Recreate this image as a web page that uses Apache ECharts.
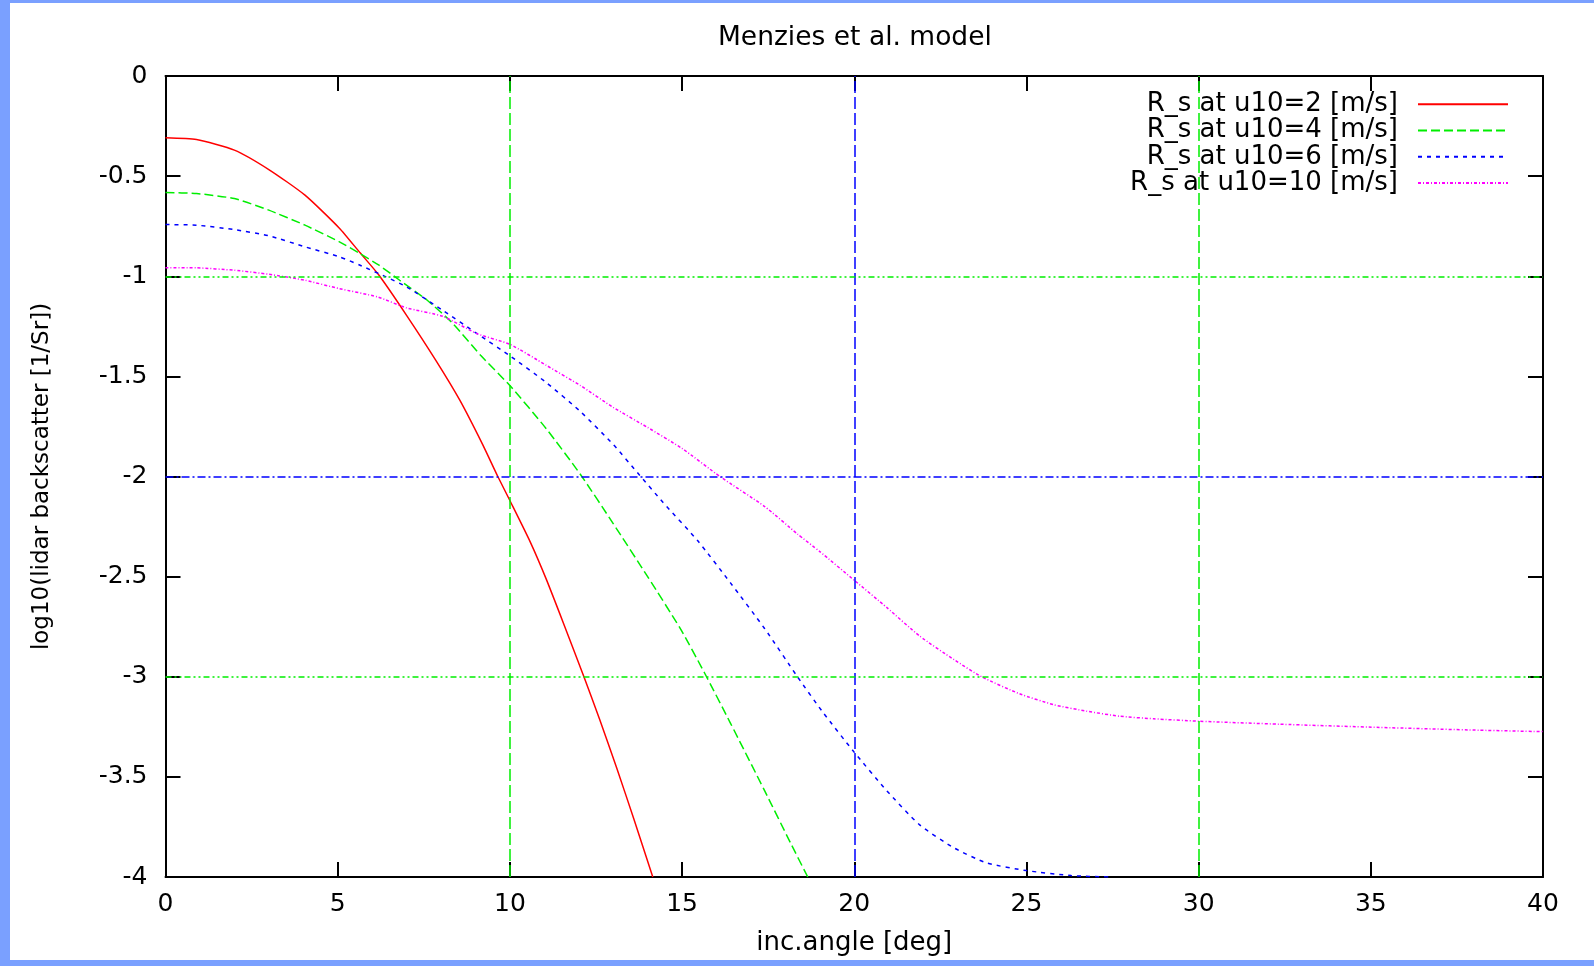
<!DOCTYPE html>
<html>
<head>
<meta charset="utf-8">
<script src="https://cdn.jsdelivr.net/npm/echarts@6/dist/echarts.min.js"></script>
<style>
  html, body { margin: 0; padding: 0; width: 1594px; height: 966px; background: #7aa0ff; overflow: hidden; }
  #c { position: absolute; left: 10px; top: 3px; width: 1584px; height: 957px; background: #ffffff; }
</style>
</head>
<body>
<div id="c"></div>
<script>
// ---- data ----
const titleText = 'Menzies et al. model';
const xName = 'inc.angle [deg]';
const yName = 'log10(lidar backscatter [1/Sr])';
const seriesNames = ['R_s at u10=2 [m/s]', 'R_s at u10=4 [m/s]', 'R_s at u10=6 [m/s]', 'R_s at u10=10 [m/s]'];

const u2Angle = [0, 0.9, 2.0, 3.0, 4.05, 5.05, 5.65, 6.2, 7.0, 7.85, 8.55, 9.2, 9.65, 10.0, 10.6, 11.05, 11.55, 12.15, 12.6, 13.1, 13.6, 14.15];
const u2Value = [-0.308, -0.317, -0.37, -0.467, -0.595, -0.76, -0.883, -0.995, -1.195, -1.42, -1.62, -1.837, -2.0, -2.12, -2.33, -2.51, -2.73, -3.0, -3.21, -3.455, -3.71, -4.0];

const u4Angle = [0, 0.9, 2.0, 3.0, 4.05, 5.05, 5.65, 6.2, 6.8, 7.6, 8.35, 9.15, 10.0, 11.05, 12.05, 13.0, 14.0, 14.95, 15.65, 16.4, 17.4, 18.15, 18.65];
const u4Value = [-0.582, -0.587, -0.612, -0.67, -0.745, -0.828, -0.887, -0.945, -1.02, -1.12, -1.237, -1.395, -1.546, -1.76, -1.99, -2.235, -2.5, -2.76, -2.98, -3.23, -3.57, -3.83, -4.0];

const u6Angle = [0, 0.9, 2.0, 3.0, 4.05, 5.05, 5.65, 6.4, 7.0, 8.05, 9.05, 10.0, 11.05, 12.05, 13.0, 13.75, 14.45, 15.45, 16.4, 17.4, 18.35, 19.1, 20.0, 20.95, 21.9, 22.9, 23.85, 25.0, 26.3, 27.4];
const u6Value = [-0.742, -0.745, -0.767, -0.798, -0.853, -0.903, -0.945, -1.003, -1.053, -1.17, -1.287, -1.397, -1.53, -1.676, -1.84, -1.99, -2.13, -2.32, -2.53, -2.76, -3.0, -3.18, -3.377, -3.57, -3.74, -3.855, -3.93, -3.968, -3.993, -4.0];

const u10Angle = [0, 0.9, 2.0, 3.0, 4.05, 5.05, 6.15, 7.0, 8.05, 9.05, 10.0, 11.05, 12.05, 13.0, 14.0, 15.0, 16.1, 17.4, 18.35, 19.0, 20.0, 20.95, 21.9, 22.9, 23.7, 24.8, 25.8, 26.75, 27.7, 28.7, 30.0, 32.35, 35.25, 38.15, 40.0];
const u10Value = [-0.957, -0.958, -0.97, -0.99, -1.02, -1.062, -1.103, -1.158, -1.2, -1.287, -1.34, -1.444, -1.546, -1.655, -1.755, -1.86, -2.0, -2.15, -2.287, -2.375, -2.518, -2.655, -2.797, -2.915, -3.0, -3.085, -3.14, -3.172, -3.197, -3.21, -3.222, -3.237, -3.253, -3.267, -3.274];

const gridX = [10, 20, 30];
const gridXColors = ['#00ee00', '#0000ff', '#00ee00'];
const gridY = [-1, -2, -3];
const gridYColors = ['#00ee00', '#0000ff', '#00ee00'];

// ---- chart ----
const FONT = 'DejaVu Sans';
function pairs(xs, ys) { return xs.map((x, i) => [x, ys[i]]); }

const chart = echarts.init(document.getElementById('c'), null, { renderer: 'canvas' });

const axisCommon = {
  type: 'value',
  axisLine: { show: true, onZero: false, lineStyle: { color: '#000', width: 2 } },
  axisTick: { show: true, inside: true, length: 15, lineStyle: { color: '#000', width: 2 } },
  splitLine: { show: false }
};

const markLineData = [];
gridX.forEach((v, i) => markLineData.push({ xAxis: v, lineStyle: { color: gridXColors[i], type: [12, 4], width: 1.5 } }));
gridY.forEach((v, i) => markLineData.push({ yAxis: v, lineStyle: { color: gridYColors[i], type: i === 1 ? [8, 3, 2, 3] : [6, 3, 2, 3, 2, 3], width: 1.5 } }));

const lineCommon = { type: 'line', showSymbol: false, symbol: 'none', smooth: 0.2, clip: true, z: 3 };

chart.setOption({
  animation: false,
  backgroundColor: '#ffffff',
  title: {
    text: titleText,
    left: 703, top: 17,
    textStyle: { fontFamily: FONT, fontSize: 26.5, fontWeight: 'normal', color: '#000' }
  },
  grid: { left: 155.5, top: 73, right: 51, bottom: 83, containLabel: false, outerBoundsMode: 'none' },
  legend: {
    orient: 'vertical',
    align: 'right',
    right: 80, top: 83,
    itemWidth: 90, itemHeight: 14, itemGap: 0,
    data: seriesNames,
    itemStyle: { color: 'transparent', borderColor: 'transparent', borderWidth: 0, opacity: 0 },
    textStyle: { fontFamily: FONT, fontSize: 26, color: '#000', lineHeight: 26.3, padding: [0, 15, 0, 0] },
    selectedMode: false
  },
  xAxis: [
    Object.assign({}, axisCommon, {
      position: 'bottom', min: 0, max: 40, interval: 5,
      name: xName, nameLocation: 'middle', nameGap: 53,
      nameTextStyle: { fontFamily: FONT, fontSize: 26, color: '#000' },
      axisLabel: { fontFamily: FONT, fontSize: 25, color: '#000', margin: 15 }
    }),
    Object.assign({}, axisCommon, {
      position: 'top', min: 0, max: 40, interval: 5,
      axisLabel: { show: false }
    })
  ],
  yAxis: [
    Object.assign({}, axisCommon, {
      position: 'left', min: -4, max: 0, interval: 0.5,
      name: yName, nameLocation: 'middle', nameGap: 112, nameRotate: 90,
      nameTextStyle: { fontFamily: FONT, fontSize: 23, color: '#000' },
      axisLabel: { fontFamily: FONT, fontSize: 25, color: '#000', margin: 18 }
    }),
    Object.assign({}, axisCommon, {
      position: 'right', min: -4, max: 0, interval: 0.5,
      axisLabel: { show: false }
    })
  ],
  series: [
    {
      name: '_grid', type: 'line', data: [], silent: true, z: 1,
      markLine: { silent: true, symbol: 'none', animation: false, label: { show: false }, data: markLineData }
    },
    Object.assign({}, lineCommon, {
      name: seriesNames[0], data: pairs(u2Angle, u2Value),
      itemStyle: { color: '#ff0000' }, lineStyle: { color: '#ff0000', width: 1.5, type: 'solid' }
    }),
    Object.assign({}, lineCommon, {
      name: seriesNames[1], data: pairs(u4Angle, u4Value),
      itemStyle: { color: '#00ee00' }, lineStyle: { color: '#00ee00', width: 1.5, type: [9, 4] }
    }),
    Object.assign({}, lineCommon, {
      name: seriesNames[2], data: pairs(u6Angle, u6Value),
      itemStyle: { color: '#0000ff' }, lineStyle: { color: '#0000ff', width: 1.5, type: [4, 5] }
    }),
    Object.assign({}, lineCommon, {
      name: seriesNames[3], data: pairs(u10Angle, u10Value),
      itemStyle: { color: '#ff00ff' }, lineStyle: { color: '#ff00ff', width: 1.5, type: [3, 2, 1, 2] }
    })
  ]
});
</script>
</body>
</html>
